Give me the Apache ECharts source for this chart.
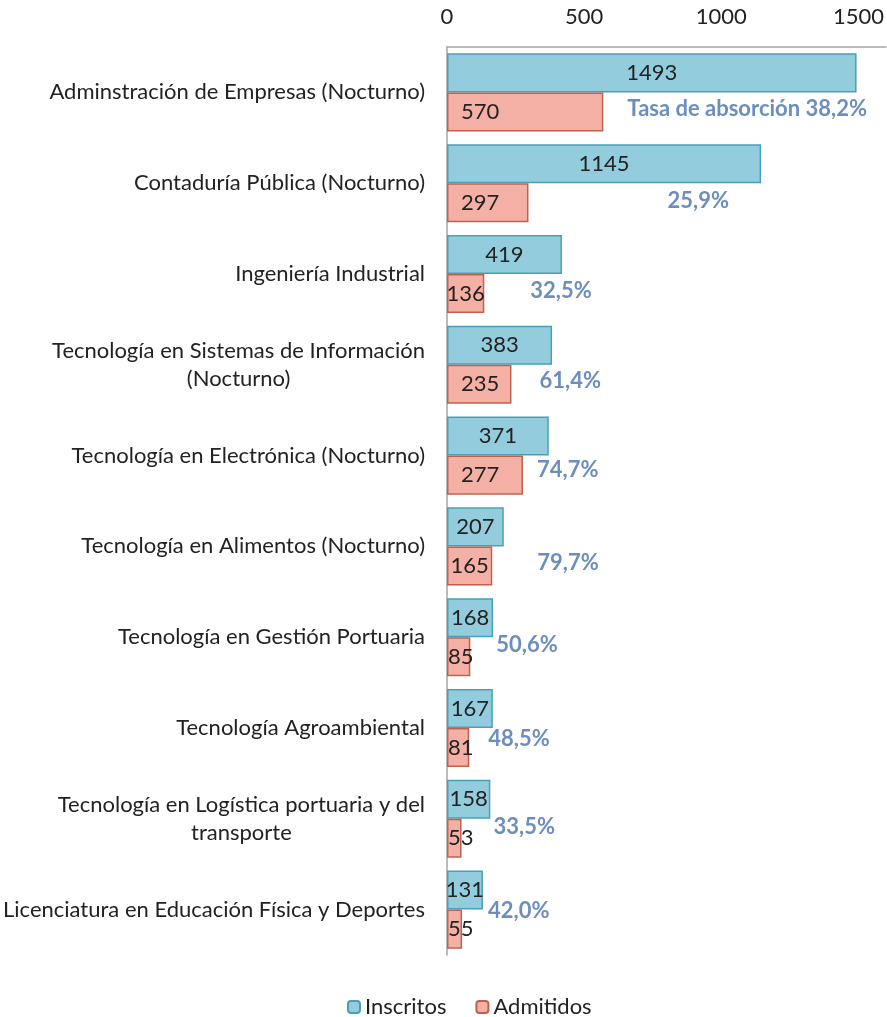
<!DOCTYPE html>
<html>
<head>
<meta charset="utf-8">
<script src="https://cdn.jsdelivr.net/npm/echarts@6/dist/echarts.min.js"></script>
<style>
    html, body { margin: 0; padding: 0; background: #fff; }
    #chart { width: 887px; height: 1017px; }
</style>
</head>
<body>
<div id="chart"></div>
<script>
// datos del gráfico
var programas = [
    'Adminstración de Empresas (Nocturno)',
    'Contaduría Pública (Nocturno)',
    'Ingeniería Industrial',
    'Tecnología en Sistemas de Información\n(Nocturno)',
    'Tecnología en Electrónica (Nocturno)',
    'Tecnología en Alimentos (Nocturno)',
    'Tecnología en Gestión Portuaria',
    'Tecnología Agroambiental',
    'Tecnología en Logística portuaria y del\ntransporte',
    'Licenciatura en Educación Física y Deportes'
];
var inscritos = [1493, 1145, 419, 383, 371, 207, 168, 167, 158, 131];
var admitidos = [570, 297, 136, 235, 277, 165, 85, 81, 53, 55];
var tasas = ['Tasa de absorción 38,2%', '25,9%', '32,5%', '61,4%', '74,7%', '79,7%', '50,6%', '48,5%', '33,5%', '42,0%'];
var ticksX = [0, 500, 1000, 1500];

// desplazamiento (px) de cada etiqueta de tasa respecto al final de la barra roja
var tasaOffsets = [[24, 17], [139, 18], [46, 17], [28, 16], [14, 14], [45, 17], [26, 8], [19, 11], [32, 8], [26, 1]];

var fuente = 'Lato';
var tam = 22;

// etiqueta de admitidos: como en Excel, pegada a la base si la barra es corta
function etiquetaAdm(v) {
    if (v < 100) return { position: 'insideLeft', distance: 1 };
    if (v < 200) return { position: 'inside' };
    return { position: 'insideLeft', distance: 14 };
}

var chart = echarts.init(document.getElementById('chart'));

var option = {
    animation: false,
    textStyle: { fontFamily: fuente },
    grid: { left: 447, right: 1, top: 47, bottom: 62, containLabel: false },
    legend: {
        top: 991,
        left: 342,
        itemWidth: 12,
        itemHeight: 12,
        itemGap: 29,
        textStyle: { fontSize: tam, color: '#222', fontFamily: fuente },
        data: ['Inscritos', 'Admitidos']
    },
    xAxis: {
        type: 'value',
        position: 'top',
        min: 0,
        max: 1600,
        interval: 500,
        axisLine: { show: true, lineStyle: { color: '#a6a6a6', width: 1.5 } },
        axisTick: { show: false },
        splitLine: { show: false },
        axisLabel: {
            showMaxLabel: false,
            margin: 19,
            fontSize: tam,
            color: '#222',
            formatter: function (v) { return ticksX.indexOf(v) >= 0 ? String(v) : ''; }
        }
    },
    yAxis: {
        type: 'category',
        inverse: true,
        data: programas,
        axisLine: { show: true, lineStyle: { color: '#a6a6a6', width: 1.5 } },
        axisTick: { show: false },
        axisLabel: {
            margin: 22,
            fontSize: tam,
            color: '#222',
            lineHeight: 28,
            formatter: function (v) {
                return v.split('\n').map(function (l) { return '{c|' + l + '}'; }).join('\n');
            },
            rich: { c: { align: 'center', fontSize: tam, color: '#222', lineHeight: 28, fontFamily: fuente } }
        }
    },
    series: [{
        name: 'Inscritos',
        type: 'bar',
        barGap: 0,
        barCategoryGap: '14%',
        itemStyle: { color: '#93cddd', borderColor: '#4a9fb8', borderWidth: 1.5 },
        label: { show: true, position: 'inside', fontSize: tam, color: '#222' },
        data: inscritos
    }, {
        name: 'Admitidos',
        type: 'bar',
        itemStyle: { color: '#f4b0a4', borderColor: '#c0604f', borderWidth: 1.5 },
        data: admitidos.map(function (v) {
            return { value: v, label: etiquetaAdm(v) };
        }),
        label: { show: true, fontSize: tam, color: '#222' }
    }, {
        name: 'Tasa',
        type: 'scatter',
        symbolSize: 0,
        silent: true,
        data: admitidos.map(function (v, i) {
            return {
                value: [v, i],
                label: {
                    show: true,
                    position: 'right',
                    distance: 0,
                    offset: tasaOffsets[i],
                    formatter: tasas[i],
                    fontSize: tam,
                    fontWeight: 'bold',
                    color: '#4672ae'
                }
            };
        })
    }]
};
chart.setOption(option);
</script>
</body>
</html>
